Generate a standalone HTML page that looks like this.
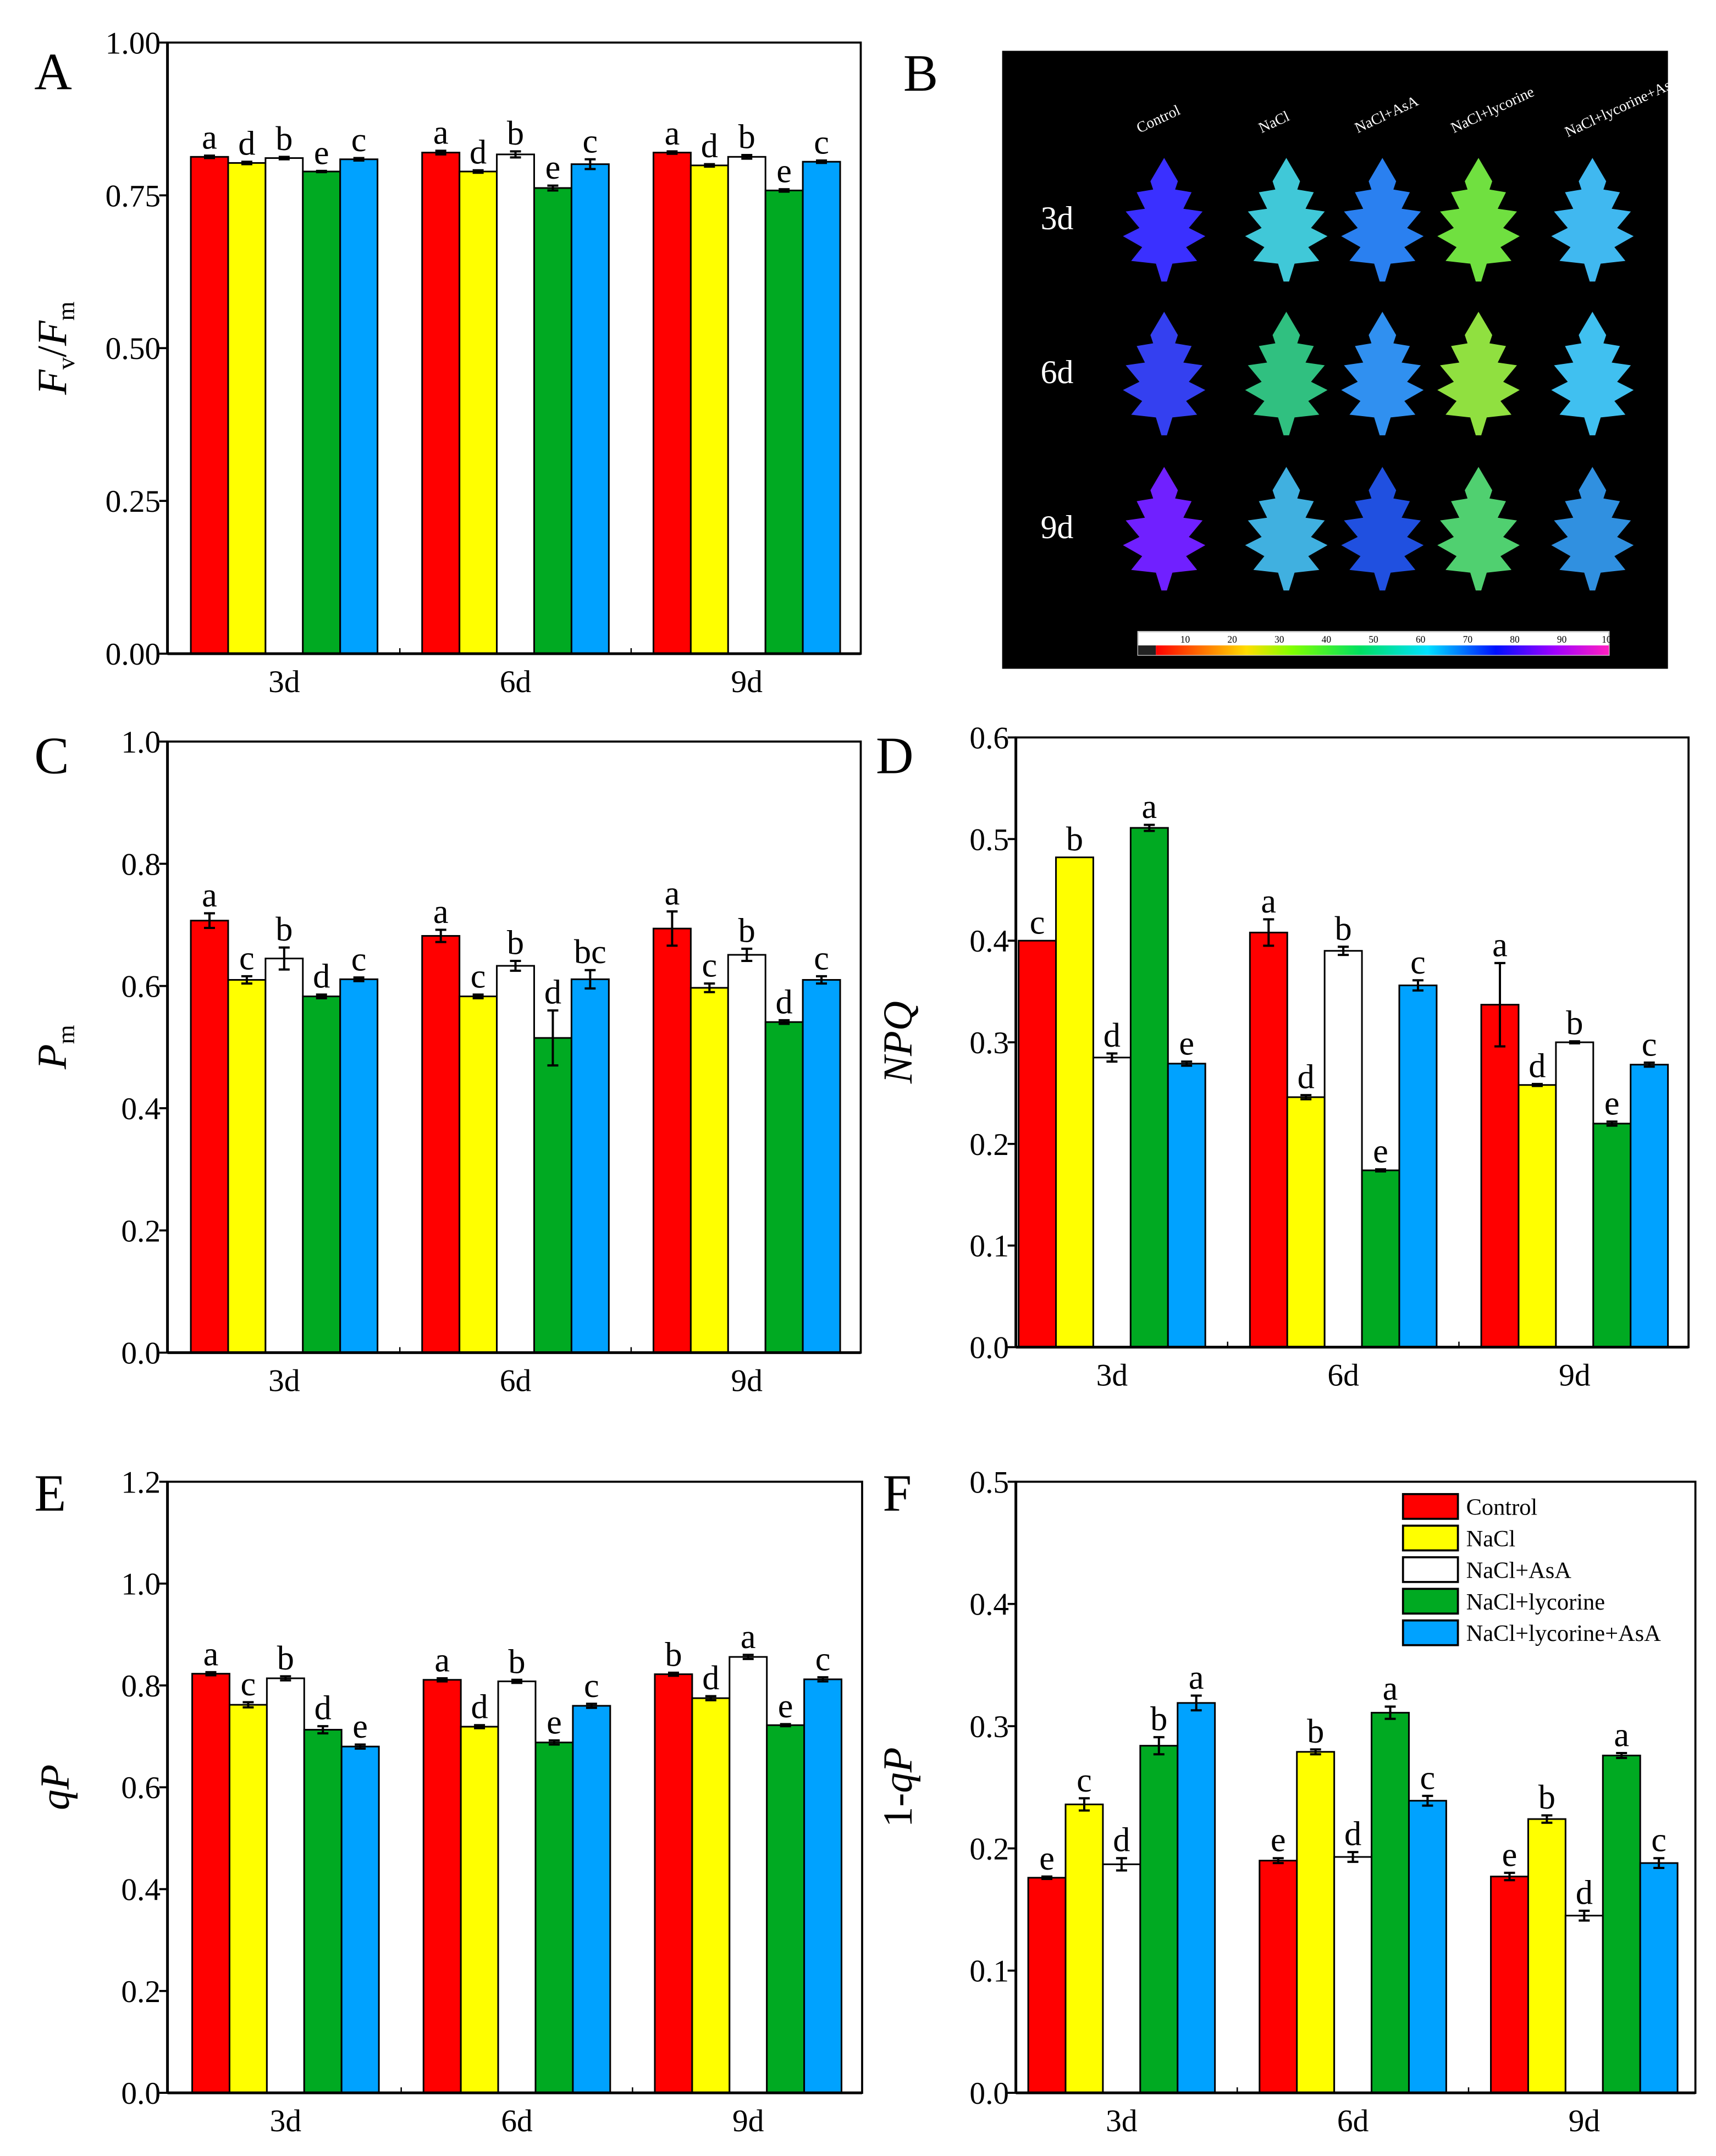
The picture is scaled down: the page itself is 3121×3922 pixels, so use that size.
<!DOCTYPE html>
<html><head><meta charset="utf-8"><style>
html,body{margin:0;padding:0;background:#fff;}
svg{display:block;font-family:"Liberation Serif","Times New Roman",serif;}
text{font-family:"Liberation Serif","Times New Roman",serif;}
</style></head><body>
<svg id="fig" width="3121" height="3922" viewBox="0 0 1250 1570" preserveAspectRatio="none" xmlns="http://www.w3.org/2000/svg" font-family="Liberation Serif, serif">
<g id="panelB"></g>
</svg>
<script>
const categories = ["3d","6d","9d"];
const seriesNames = ["Control","NaCl","NaCl+AsA","NaCl+lycorine","NaCl+lycorine+AsA"];
const colors = ["#ff0000","#ffff00","#ffffff","#00aa22","#00a2ff"];

const fvfmVals = [[0.813,0.803,0.811,0.789,0.809],[0.820,0.789,0.817,0.762,0.801],[0.820,0.799,0.813,0.758,0.805]];
const fvfmErr = [[0.002,0.002,0.002,0.001,0.002],[0.003,0.002,0.005,0.004,0.008],[0.002,0.002,0.003,0.002,0.002]];
const fvfmLet = [["a","d","b","e","c"],["a","d","b","e","c"],["a","d","b","e","c"]];
const fvfmTicks = ["0.00","0.25","0.50","0.75","1.00"];

const pmVals = [[0.707,0.610,0.645,0.583,0.611],[0.682,0.583,0.633,0.515,0.611],[0.694,0.597,0.651,0.541,0.610]];
const pmErr = [[0.012,0.006,0.018,0.003,0.003],[0.010,0.003,0.008,0.045,0.015],[0.028,0.007,0.010,0.003,0.006]];
const pmLet = [["a","c","b","d","c"],["a","c","b","d","bc"],["a","c","b","d","c"]];
const pmTicks = ["0.0","0.2","0.4","0.6","0.8","1.0"];

const npqVals = [[0.400,0.482,0.285,0.511,0.279],[0.408,0.246,0.390,0.174,0.356],[0.337,0.258,0.300,0.220,0.278]];
const npqErr = [[0.000,0.000,0.004,0.003,0.002],[0.013,0.002,0.004,0.001,0.005],[0.041,0.001,0.001,0.002,0.002]];
const npqLet = [["c","b","d","a","e"],["a","d","b","e","c"],["a","d","b","e","c"]];
const npqTicks = ["0.0","0.1","0.2","0.3","0.4","0.5","0.6"];

const qpVals = [[0.823,0.762,0.814,0.713,0.680],[0.811,0.719,0.808,0.688,0.760],[0.822,0.775,0.856,0.722,0.812]];
const qpErr = [[0.003,0.005,0.004,0.007,0.004],[0.003,0.003,0.003,0.004,0.004],[0.003,0.004,0.004,0.002,0.004]];
const qpLet = [["a","c","b","d","e"],["a","d","b","e","c"],["b","d","a","e","c"]];
const qpTicks = ["0.0","0.2","0.4","0.6","0.8","1.0","1.2"];

const oqpVals = [[0.176,0.236,0.187,0.284,0.319],[0.190,0.279,0.193,0.311,0.239],[0.177,0.224,0.145,0.276,0.188]];
const oqpErr = [[0.001,0.005,0.005,0.007,0.006],[0.002,0.002,0.004,0.005,0.004],[0.003,0.003,0.004,0.002,0.004]];
const oqpLet = [["e","c","d","b","a"],["e","b","d","a","c"],["e","b","d","a","c"]];
const oqpTicks = ["0.0","0.1","0.2","0.3","0.4","0.5"];

const NS="http://www.w3.org/2000/svg";
const svg=document.getElementById('fig');
function mk(tag,attrs,parent){const e=document.createElementNS(NS,tag);for(const k in attrs)e.setAttribute(k,attrs[k]);if(tag==='text')e.setAttribute('font-family','Liberation Serif, serif');(parent||svg).appendChild(e);return e;}

function chart(id,box,pad,ticks,vals,errs,lets,panel,ylabelHTML,ylx,legend){
  const g=mk('g',{});
  
  
  const [x0,y0,x1,y1]=box;
  const ymin=parseFloat(ticks[0]), ymax=parseFloat(ticks[ticks.length-1]);
  const ys=v=>y1-(v-ymin)/(ymax-ymin)*(y1-y0);
  const pitch=168.5;
  const xc=i=>x0+pad+i*pitch;
  const bw=27.2;
  vals.forEach((grp,i)=>{grp.forEach((v,j)=>{
    const bx=xc(i)-bw*2.5+j*bw;
    const r=mk('rect',{x:bx,y:ys(v),width:bw,height:ys(ymin)-ys(v),fill:colors[j],stroke:'#000','stroke-width':1.2},g);
    
    
    const e=errs[i][j], cx=bx+bw/2;
    if(e>0){
      const eb=mk('path',{d:`M${cx},${ys(v+e)}V${ys(v-e)}M${cx-4},${ys(v+e)}H${cx+4}M${cx-4},${ys(v-e)}H${cx+4}`,stroke:'#000','stroke-width':1.6,fill:'none'},g);
      
      
    }
    const t=mk('text',{x:cx,y:ys(v+e)-5,'font-size':25,'text-anchor':'middle'},g);
    t.textContent=lets[i][j];
    
    
  });});
  const fr=mk('rect',{x:x0,y:y0,width:x1-x0,height:y1-y0,fill:'none',stroke:'#000','stroke-width':1.5},g);
  
  
  mk('line',{x1:x0,y1:y1,x2:x1,y2:y1,stroke:'#000','stroke-width':2},g);
  mk('line',{x1:x0,y1:y0,x2:x0,y2:y1,stroke:'#000','stroke-width':2},g);
  ticks.forEach(tk=>{
    const v=parseFloat(tk), y=ys(v);
    mk('line',{x1:x0-6,y1:y,x2:x0,y2:y,stroke:'#000','stroke-width':1.5},g);
    const t=mk('text',{x:x0-5,y:y+8,'font-size':23,'text-anchor':'end'},g);
    t.textContent=tk;
    
    
  });
  for(let i=1;i<categories.length;i++){const bxp=(xc(i-1)+xc(i))/2; mk('line',{x1:bxp,y1:y1,x2:bxp,y2:y1-4,stroke:'#000','stroke-width':1},g);}
  categories.forEach((c,i)=>{
    const t=mk('text',{x:xc(i),y:y1+28,'font-size':23,'text-anchor':'middle'},g);
    t.textContent=c;
    
    
  });
  const pl=mk('text',{x:panel[1],y:panel[2],'font-size':38},g);
  pl.textContent=panel[0];
  
  
  const yl=mk('text',{transform:`translate(${ylx},${(y0+y1)/2}) rotate(-90)`,'font-size':30,'text-anchor':'middle'},g);
  yl.innerHTML=ylabelHTML;
  
  
  if(legend){
    seriesNames.forEach((n,j)=>{
      const ly=1088+j*23;
      const r=mk('rect',{x:1022,y:ly,width:40,height:18,fill:colors[j],stroke:'#000','stroke-width':1.5},g);
      
      
      const t=mk('text',{x:1068,y:ly+15,'font-size':17},g);
      t.textContent=n;
      
      
    });
  }
}
chart('fv-fm',[122,31,627,476],85,fvfmTicks,fvfmVals,fvfmErr,fvfmLet,['A',25,65],'<tspan font-style="italic">F</tspan><tspan font-size="18" dy="6">v</tspan><tspan dy="-6">/</tspan><tspan font-style="italic">F</tspan><tspan font-size="18" dy="6">m</tspan>',48);
chart('pm',[122,540,627,985],85,pmTicks,pmVals,pmErr,pmLet,['C',25,563],'<tspan font-style="italic">P</tspan><tspan font-size="18" dy="6">m</tspan>',48);
chart('npq',[740,537,1230,981],70,npqTicks,npqVals,npqErr,npqLet,['D',638,563],'<tspan font-style="italic">NPQ</tspan>',664);
chart('qp',[122,1079,628,1524],86,qpTicks,qpVals,qpErr,qpLet,['E',25,1100],'<tspan font-style="italic">qP</tspan>',50);
chart('one-minus-qp',[740,1079,1235,1524],77,oqpTicks,oqpVals,oqpErr,oqpLet,['F',643,1100],'1-<tspan font-style="italic">qP</tspan>',664,true);

// Panel B
const pb=document.getElementById('panelB');
mk('rect',{x:730,y:37,width:485,height:450,fill:'#000'},pb);
const lbl=mk('text',{x:658,y:66,'font-size':38},svg);lbl.textContent='B';


const colX=[848,937,1007,1077,1160], rowY=[160,272,385];
const leafCols=[["#3a30ff","#40c8d8","#2a80f0","#70e040","#40b8f0"],["#3440f0","#30c080","#3090f0","#90e040","#40c0f0"],["#7020ff","#40b0e0","#2050e0","#50d070","#3090e0"]];
const leafD="M0,-45 L10,-28 L8,-22 L20,-20 L14,-8 L28,-6 L18,6 L30,12 L16,20 L24,30 L6,32 L2,45 L-2,45 L-6,32 L-24,30 L-16,20 L-30,12 L-18,6 L-28,-6 L-14,-8 L-20,-20 L-8,-22 L-10,-28 Z";
rowY.forEach((y,r)=>{
  const t=mk('text',{x:758,y:y+7,'font-size':24,fill:'#fff'},pb);t.textContent=categories[r];
  colX.forEach((x,c)=>{
    const p=mk('path',{d:leafD,transform:`translate(${x},${y})`,fill:leafCols[r][c]},pb);
    
    
  });
});
seriesNames.forEach((n,c)=>{
  const t=mk('text',{transform:`translate(${colX[c]-18},${c===4?100:97}) rotate(-25)`,'font-size':11,fill:'#fff'},pb);t.textContent=n;
});
const defs=mk('defs',{},svg);
const lg=mk('linearGradient',{id:'cb',x1:0,x2:1,y1:0,y2:0},defs);
[["0","#ff0000"],["0.2","#ffdd00"],["0.3","#80ff00"],["0.45","#00e060"],["0.6","#00e0ff"],["0.75","#0010ff"],["0.88","#a000ff"],["1","#ff20c0"]].forEach(s=>mk('stop',{offset:s[0],'stop-color':s[1]},lg));
mk('rect',{x:829,y:460,width:343,height:17,fill:'#fff',stroke:'#ccc'},pb);
mk('rect',{x:829,y:470,width:13,height:7,fill:'#222'},pb);
mk('rect',{x:842,y:470,width:330,height:7,fill:'url(#cb)'},pb);
for(let k=1;k<=10;k++){const t=mk('text',{x:829+k*34.3,y:468,'font-size':7,'text-anchor':'middle',fill:'#000'},pb);t.textContent=String(k*10);}
</script>
</body></html>
